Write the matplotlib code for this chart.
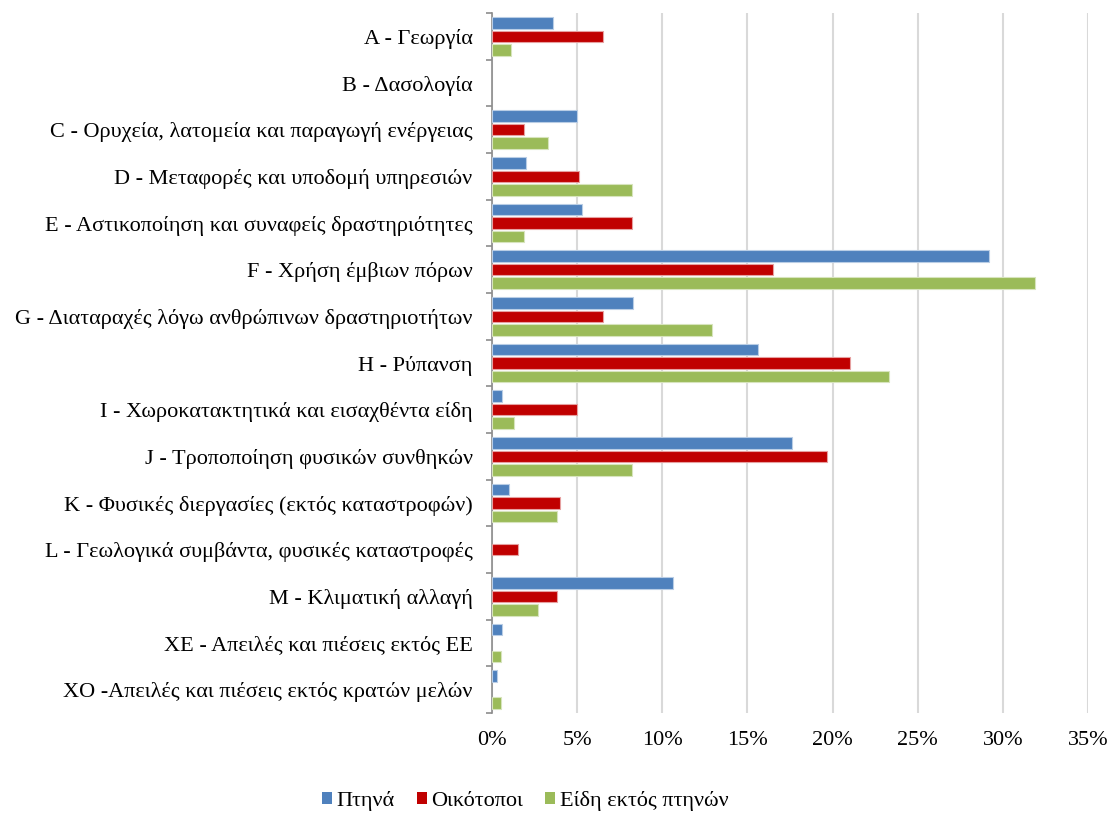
import numpy as np
import matplotlib.pyplot as plt
from matplotlib.patches import Patch

plt.rcParams['font.family'] = ['Liberation Serif', 'DejaVu Serif']

# Categories (top to bottom)
categories = [
    'A - Γεωργία',
    'B - Δασολογία',
    'C - Ορυχεία, λατομεία και παραγωγή ενέργειας',
    'D - Μεταφορές και υποδομή υπηρεσιών',
    'E - Αστικοποίηση και συναφείς δραστηριότητες',
    'F - Χρήση έμβιων πόρων',
    'G - Διαταραχές λόγω ανθρώπινων δραστηριοτήτων',
    'H - Ρύπανση',
    'I - Χωροκατακτητικά και εισαχθέντα είδη',
    'J - Τροποποίηση φυσικών συνθηκών',
    'K - Φυσικές διεργασίες (εκτός καταστροφών)',
    'L - Γεωλογικά συμβάντα, φυσικές καταστροφές',
    'M - Κλιματική αλλαγή',
    'XE - Απειλές και πιέσεις εκτός ΕΕ',
    'XO -Απειλές και πιέσεις εκτός κρατών μελών',
]

# Values in %
birds = [3.6, 0, 5.0, 2.0, 5.3, 29.2, 8.3, 15.6, 0.6, 17.6, 1.0, 0, 10.6, 0.6, 0.3]
habitats = [6.5, 0, 1.9, 5.1, 8.25, 16.5, 6.5, 21.0, 5.0, 19.7, 4.0, 1.5, 3.8, 0, 0]
other_species = [1.1, 0, 3.3, 8.2, 1.9, 31.9, 12.9, 23.3, 1.3, 8.2, 3.8, 0, 2.7, 0.5, 0.5]

series_names = ['Πτηνά', 'Οικότοποι', 'Είδη εκτός πτηνών']
colors = ['#4F81BD', '#C00000', '#9BBB59']
edges = ['#B9CDE5', '#E6A0A0', '#D7E4BD']
fs = 16

fig = plt.figure(figsize=(11.13, 8.14), dpi=100)
ax = fig.add_axes([492 / 1113, 1 - 713 / 814, 596 / 1113, 700 / 814])

y = np.arange(len(categories))
pitch = 0.29
h = 0.245
for i, vals in enumerate([birds, habitats, other_species]):
    vals = np.array(vals)
    lw = np.where(vals > 0, 0.8, 0)
    ax.barh(y + (i - 1) * pitch, vals, height=h, color=colors[i],
            edgecolor=edges[i], linewidth=lw, zorder=3)

ax.set_xlim(0, 35)
ax.set_ylim(len(categories) - 0.5, -0.5)
ax.set_xticks(np.arange(0, 36, 5))
ax.set_xticklabels([f'{v}%' for v in range(0, 36, 5)], fontsize=fs)
ax.xaxis.grid(True, color='#D9D9D9', linewidth=1.5, zorder=0)
ax.tick_params(axis='x', length=0, pad=13)

ax.set_yticks(y)
ax.set_yticklabels(categories, fontsize=fs)
ax.set_yticks(np.arange(-0.5, len(categories)), minor=True)
ax.tick_params(axis='y', which='major', length=0, pad=14)
ax.tick_params(axis='y', which='minor', length=4, width=1.2, color='#8C8C8C', direction='out')

for s in ['top', 'right', 'bottom']:
    ax.spines[s].set_visible(False)
ax.spines['left'].set_color('#8C8C8C')
ax.spines['left'].set_linewidth(1.2)

handles = [Patch(facecolor=c, edgecolor='none') for c in colors]
fig.legend(handles, series_names, loc='center', bbox_to_anchor=(525 / 1113, 1 - 801 / 814),
           ncol=3, frameon=False, fontsize=fs, handlelength=0.45, handleheight=0.45,
           handletextpad=0.2, columnspacing=1.0)

fig.savefig('out.png', dpi=100)
